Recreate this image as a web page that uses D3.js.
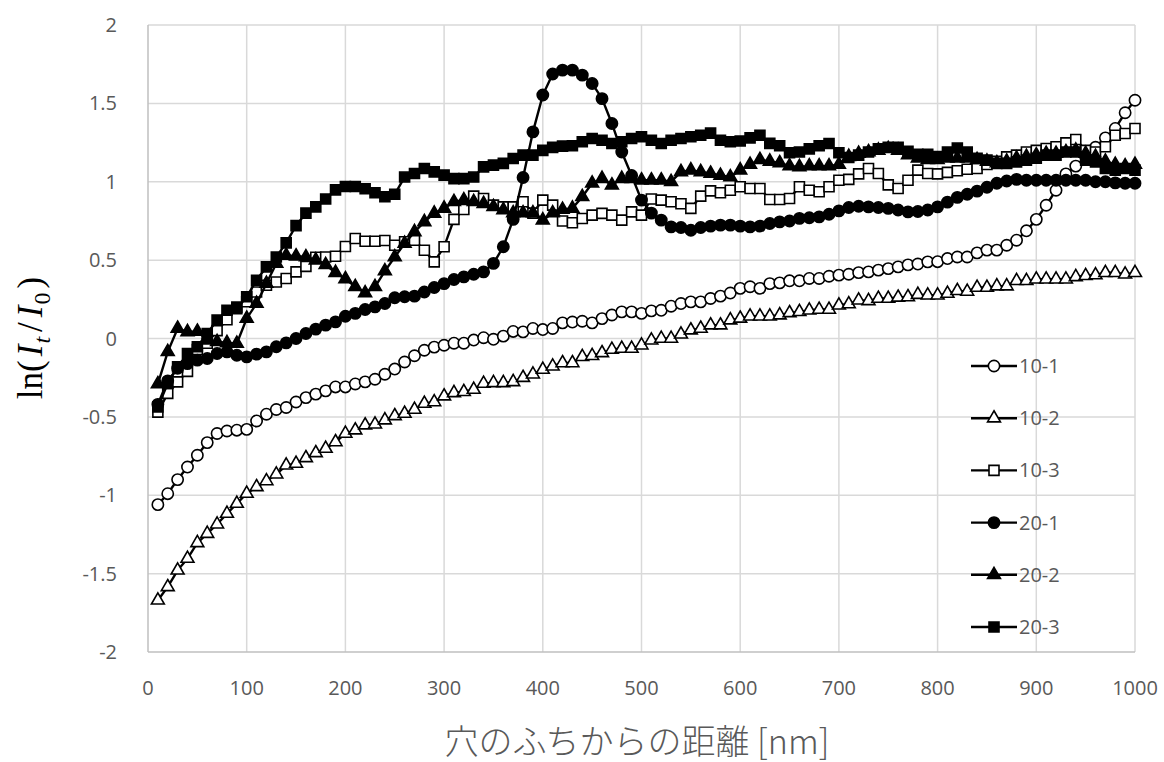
<!DOCTYPE html>
<html>
<head>
<meta charset="utf-8">
<script src="https://cdn.jsdelivr.net/npm/d3@7"></script>
<style>
  body { margin: 0; background: #fff; }
  svg { display: block; }
</style>
</head>
<body>
<div id="chart"></div>
<script>
'use strict';

// distance from hole edge [nm], one sample every 10 nm
var distances = d3.range(10, 1001, 10);

var s10_1 = [-1.06,-0.99,-0.90,-0.82,-0.745,-0.664,-0.606,-0.59,-0.585,-0.58,
  -0.526,-0.483,-0.453,-0.44,-0.405,-0.377,-0.355,-0.334,-0.309,-0.309,
  -0.29,-0.277,-0.26,-0.228,-0.195,-0.15,-0.11,-0.075,-0.055,-0.043,
  -0.03,-0.03,-0.01,0.005,-0.005,0.015,0.045,0.042,0.064,0.057,
  0.064,0.10,0.105,0.11,0.10,0.127,0.15,0.17,0.17,0.16,
  0.176,0.18,0.206,0.223,0.234,0.234,0.255,0.27,0.29,0.32,
  0.33,0.32,0.35,0.355,0.368,0.368,0.383,0.383,0.397,0.404,
  0.41,0.42,0.425,0.436,0.446,0.457,0.47,0.475,0.489,0.49,
  0.51,0.52,0.52,0.546,0.564,0.564,0.595,0.627,0.687,0.76,
  0.85,0.946,1.05,1.10,1.16,1.22,1.28,1.34,1.44,1.52];

var s10_2 = [-1.67,-1.585,-1.479,-1.404,-1.304,-1.245,-1.185,-1.117,-1.053,-0.989,
  -0.947,-0.909,-0.866,-0.809,-0.798,-0.762,-0.73,-0.702,-0.66,-0.606,
  -0.585,-0.553,-0.547,-0.521,-0.494,-0.479,-0.453,-0.415,-0.405,-0.368,
  -0.347,-0.34,-0.326,-0.287,-0.283,-0.283,-0.277,-0.25,-0.228,-0.198,
  -0.177,-0.156,-0.156,-0.117,-0.11,-0.092,-0.07,-0.064,-0.064,-0.043,
  -0.011,0.0,0.0,0.027,0.053,0.064,0.085,0.085,0.117,0.128,
  0.142,0.142,0.142,0.149,0.163,0.17,0.18,0.185,0.185,0.212,
  0.22,0.244,0.24,0.255,0.255,0.262,0.265,0.28,0.276,0.276,
  0.287,0.304,0.30,0.325,0.325,0.334,0.334,0.368,0.368,0.378,
  0.378,0.378,0.378,0.393,0.40,0.405,0.419,0.419,0.41,0.419];

var s10_3 = [-0.47,-0.35,-0.277,-0.21,-0.07,-0.03,0.05,0.12,0.20,0.234,
  0.297,0.34,0.36,0.383,0.425,0.46,0.518,0.52,0.525,0.587,
  0.638,0.62,0.62,0.625,0.595,0.617,0.627,0.563,0.489,0.585,
  0.76,0.823,0.908,0.893,0.851,0.84,0.84,0.872,0.80,0.883,
  0.851,0.75,0.738,0.766,0.787,0.798,0.787,0.755,0.808,0.787,
  0.89,0.883,0.872,0.86,0.83,0.908,0.942,0.93,0.946,0.968,
  0.957,0.957,0.887,0.887,0.893,0.968,0.946,0.936,0.968,1.01,
  1.015,1.05,1.085,1.053,0.98,0.957,1.01,1.074,1.053,1.05,
  1.06,1.07,1.08,1.085,1.11,1.13,1.159,1.17,1.19,1.20,
  1.212,1.223,1.248,1.27,1.20,1.19,1.223,1.297,1.308,1.34];

var s20_1 = [-0.42,-0.27,-0.19,-0.16,-0.138,-0.128,-0.096,-0.085,-0.107,-0.117,
  -0.10,-0.085,-0.053,-0.028,0.0,0.032,0.06,0.085,0.106,0.142,
  0.16,0.185,0.202,0.223,0.26,0.266,0.27,0.297,0.325,0.35,
  0.376,0.393,0.41,0.425,0.479,0.585,0.76,1.027,1.318,1.553,
  1.687,1.712,1.712,1.68,1.627,1.53,1.372,1.19,1.04,0.883,
  0.80,0.755,0.712,0.708,0.691,0.708,0.717,0.723,0.723,0.717,
  0.712,0.717,0.734,0.744,0.75,0.766,0.77,0.776,0.793,0.814,
  0.836,0.844,0.84,0.836,0.83,0.82,0.808,0.81,0.82,0.84,
  0.87,0.90,0.92,0.94,0.965,0.99,1.005,1.015,1.01,1.01,
  1.01,1.01,1.01,1.01,1.01,1.0,1.0,0.993,0.99,0.99];

var s20_2 = [-0.29,-0.085,0.064,0.042,0.045,-0.011,-0.021,-0.028,-0.032,0.128,
  0.223,0.351,0.479,0.53,0.525,0.52,0.50,0.47,0.42,0.38,
  0.33,0.29,0.33,0.43,0.52,0.606,0.68,0.744,0.798,0.83,
  0.872,0.883,0.872,0.86,0.84,0.82,0.80,0.80,0.80,0.755,
  0.80,0.823,0.83,0.904,0.99,1.02,0.978,1.02,1.02,1.01,
  1.01,1.01,1.0,1.063,1.074,1.063,1.053,1.04,1.03,1.074,
  1.11,1.14,1.13,1.12,1.10,1.095,1.10,1.10,1.10,1.11,
  1.16,1.18,1.19,1.20,1.21,1.20,1.17,1.15,1.14,1.14,
  1.15,1.15,1.15,1.14,1.13,1.12,1.13,1.15,1.16,1.17,
  1.18,1.18,1.19,1.20,1.18,1.16,1.13,1.11,1.10,1.11];

var s20_3 = [-0.436,-0.287,-0.181,-0.096,-0.053,0.032,0.117,0.18,0.19,0.266,
  0.372,0.457,0.52,0.61,0.72,0.80,0.84,0.89,0.948,0.97,
  0.97,0.955,0.93,0.904,0.92,1.03,1.053,1.085,1.063,1.042,
  1.02,1.02,1.03,1.095,1.106,1.117,1.148,1.17,1.17,1.20,
  1.219,1.227,1.23,1.255,1.276,1.265,1.244,1.255,1.276,1.287,
  1.265,1.244,1.265,1.276,1.287,1.297,1.31,1.265,1.255,1.26,
  1.28,1.297,1.245,1.23,1.185,1.19,1.21,1.23,1.244,1.185,
  1.155,1.17,1.19,1.21,1.22,1.22,1.195,1.175,1.175,1.16,
  1.19,1.215,1.19,1.15,1.138,1.117,1.117,1.127,1.138,1.15,
  1.17,1.17,1.19,1.19,1.138,1.127,1.085,1.074,1.085,1.074];

var seriesNames = ['10-1', '10-2', '10-3', '20-1', '20-2', '20-3'];
var seriesValues = [s10_1, s10_2, s10_3, s20_1, s20_2, s20_3];
var xTicks = [0, 100, 200, 300, 400, 500, 600, 700, 800, 900, 1000];
var yTicks = [-2, -1.5, -1, -0.5, 0, 0.5, 1, 1.5, 2];

// marker look per series
var markerStyle = [
  {type: d3.symbolCircle, size: 100, fill: '#fff'},
  {type: d3.symbolTriangle, size: 72, fill: '#fff'},
  {type: d3.symbolSquare, size: 100, fill: '#fff'},
  {type: d3.symbolCircle, size: 100, fill: '#000'},
  {type: d3.symbolTriangle, size: 72, fill: '#000'},
  {type: d3.symbolSquare, size: 100, fill: '#000'}
];

var labelFont = '"Open Sans", "Noto Sans", sans-serif';

var width = 1164, height = 762;
var margin = {top: 25, right: 29, bottom: 110, left: 148};
var innerWidth = width - margin.left - margin.right;
var innerHeight = height - margin.top - margin.bottom;

var svg = d3.select('#chart').append('svg')
  .attr('width', width)
  .attr('height', height);

var chart = svg.append('g')
  .attr('transform', 'translate(' + margin.left + ',' + margin.top + ')');

var x = d3.scaleLinear().domain([0, 1000]).range([0, innerWidth]);
var y = d3.scaleLinear().domain([-2, 2]).range([innerHeight, 0]);

// gridlines
chart.append('g').selectAll('line')
  .data(xTicks.slice(1))
  .enter().append('line')
  .attr('x1', function(d) { return x(d); })
  .attr('x2', function(d) { return x(d); })
  .attr('y1', 0).attr('y2', innerHeight)
  .attr('stroke', '#d9d9d9').attr('stroke-width', 1.5);

chart.append('g').selectAll('line')
  .data(yTicks.slice(1))
  .enter().append('line')
  .attr('x1', 0).attr('x2', innerWidth)
  .attr('y1', function(d) { return y(d); })
  .attr('y2', function(d) { return y(d); })
  .attr('stroke', '#d9d9d9').attr('stroke-width', 1.5);

// axis lines
chart.append('line')
  .attr('x1', 0).attr('x2', 0).attr('y1', 0).attr('y2', innerHeight)
  .attr('stroke', '#bfbfbf').attr('stroke-width', 1.5);
chart.append('line')
  .attr('x1', 0).attr('x2', innerWidth).attr('y1', innerHeight).attr('y2', innerHeight)
  .attr('stroke', '#bfbfbf').attr('stroke-width', 1.5);

// tick labels
chart.append('g').selectAll('text')
  .data(xTicks)
  .enter().append('text')
  .attr('x', function(d) { return x(d); })
  .attr('y', innerHeight + 36)
  .attr('dy', '0.35em')
  .attr('text-anchor', 'middle')
  .attr('fill', '#595959')
  .attr('font-family', labelFont)
  .attr('font-size', 20)
  .text(function(d) { return String(d); });

chart.append('g').selectAll('text')
  .data(yTicks)
  .enter().append('text')
  .attr('x', -31)
  .attr('y', function(d) { return y(d); })
  .attr('dy', '0.35em')
  .attr('text-anchor', 'end')
  .attr('fill', '#595959')
  .attr('font-family', labelFont)
  .attr('font-size', 20)
  .text(function(d) { return String(d); });

// series
var line = d3.line()
  .x(function(d) { return x(d[0]); })
  .y(function(d) { return y(d[1]); });

seriesValues.forEach(function(vals, i) {
  var pts = vals.map(function(v, j) { return [distances[j], v]; });
  var g = chart.append('g').attr('class', 'series s' + i);
  g.append('path')
    .datum(pts)
    .attr('d', line)
    .attr('fill', 'none')
    .attr('stroke', '#000')
    .attr('stroke-width', 2.4);
  var sym = d3.symbol().type(markerStyle[i].type).size(markerStyle[i].size);
  g.selectAll('path.mark')
    .data(pts)
    .enter().append('path')
    .attr('class', 'mark')
    .attr('transform', function(d) {
      return 'translate(' + x(d[0]) + ',' + y(d[1]) + ')';
    })
    .attr('d', sym)
    .attr('fill', markerStyle[i].fill)
    .attr('stroke', '#000')
    .attr('stroke-width', 1.6);
});

// legend
var legend = svg.append('g').attr('transform', 'translate(971,366)');
seriesNames.forEach(function(name, i) {
  var row = legend.append('g').attr('transform', 'translate(0,' + (i * 52.2) + ')');
  row.append('line')
    .attr('x1', 0).attr('x2', 46).attr('y1', 0).attr('y2', 0)
    .attr('stroke', '#000').attr('stroke-width', 2.4);
  row.append('path')
    .attr('transform', 'translate(23,0)')
    .attr('d', d3.symbol().type(markerStyle[i].type).size(markerStyle[i].size))
    .attr('fill', markerStyle[i].fill)
    .attr('stroke', '#000')
    .attr('stroke-width', 1.6);
  row.append('text')
    .attr('x', 48).attr('y', 0).attr('dy', '0.35em')
    .attr('fill', '#595959')
    .attr('font-family', labelFont)
    .attr('font-size', 20)
    .text(name);
});

// axis titles
svg.append('text')
  .attr('x', 637)
  .attr('y', 742)
  .attr('text-anchor', 'middle')
  .attr('dy', '0.35em')
  .attr('fill', '#595959')
  .attr('font-family', '"Noto Sans CJK JP", sans-serif')
  .attr('font-size', 34)
  .attr('font-weight', 300)
  .text('穴のふちからの距離 [nm]');

var yTitle = svg.append('text')
  .attr('transform', 'translate(42,338) rotate(-90)')
  .attr('text-anchor', 'middle')
  .attr('fill', '#000')
  .attr('font-family', '"Liberation Serif", "DejaVu Serif", serif')
  .attr('font-size', 35);
yTitle.append('tspan').text('ln(');
yTitle.append('tspan').attr('dx', 4).attr('font-style', 'italic').text('I');
yTitle.append('tspan').attr('dx', 1).attr('font-style', 'italic').attr('font-size', 24).attr('dy', 8).text('t');
yTitle.append('tspan').attr('dx', 5).attr('dy', -8).text('/');
yTitle.append('tspan').attr('dx', 5).attr('font-style', 'italic').text('I');
yTitle.append('tspan').attr('dx', 1).attr('font-size', 24).attr('dy', 8).text('0');
yTitle.append('tspan').attr('dx', 4).attr('dy', -8).text(')');
</script>
</body>
</html>
